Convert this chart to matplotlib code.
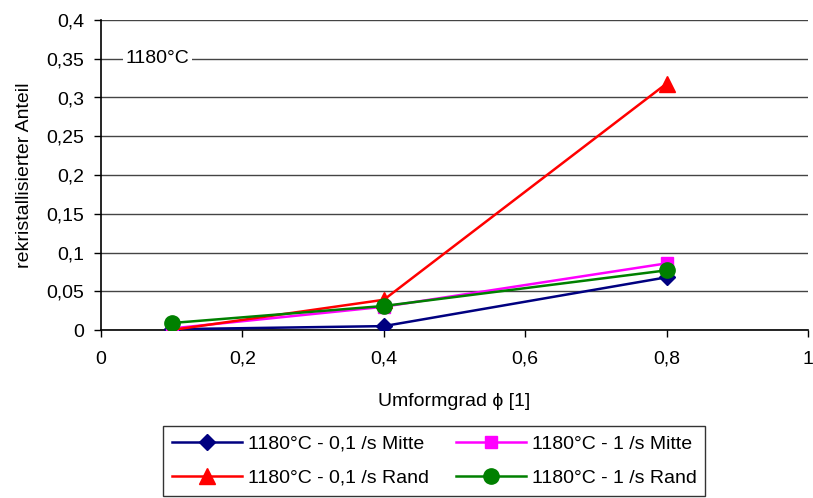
import matplotlib
matplotlib.use("Agg")
import matplotlib.pyplot as plt
from matplotlib.ticker import FuncFormatter, MultipleLocator

plt.rcParams['font.family'] = ['Liberation Sans', 'DejaVu Sans']

phi = [0.1, 0.4, 0.8]
mitte_01 = [0.001, 0.005, 0.068]
mitte_1 = [0.002, 0.030, 0.086]
rand_01 = [0.000, 0.039, 0.318]
rand_1 = [0.009, 0.031, 0.077]

labels = ["1180°C - 0,1 /s Mitte", "1180°C - 1 /s Mitte",
          "1180°C - 0,1 /s Rand", "1180°C - 1 /s Rand"]

fs = 14
fig = plt.figure(figsize=(8.13, 4.98), dpi=100)
ax = fig.add_axes([101/813, 1 - 330/498, 707/813, 310/498])

l1, = ax.plot(phi, mitte_01, color='#000080', marker='D', ms=8, lw=1.8, zorder=3)
l2, = ax.plot(phi, mitte_1, color='#ff00ff', marker='s', ms=9, lw=1.8, zorder=3)
l3, = ax.plot(phi, rand_01, color='#ff0000', marker='^', ms=11, lw=1.8, zorder=3)
l4, = ax.plot(phi, rand_1, color='#008000', marker='o', ms=11, lw=1.8, zorder=3)

ax.set_xlim(0, 1)
ax.set_ylim(0, 0.4)
ax.xaxis.set_major_locator(MultipleLocator(0.2))
ax.yaxis.set_major_locator(MultipleLocator(0.05))
comma = FuncFormatter(lambda v, p: ('%g' % round(v, 3)).replace('.', ','))
ax.xaxis.set_major_formatter(comma)
ax.yaxis.set_major_formatter(comma)

ax.grid(axis='y', color='#444444', lw=1, zorder=0)
ax.set_axisbelow(True)
for s in ['top', 'right']:
    ax.spines[s].set_visible(False)
ax.spines['left'].set_linewidth(1.2)
ax.spines['bottom'].set_linewidth(1.2)
ax.tick_params(direction='out', length=5, width=1, labelsize=fs, pad=7)
ax.tick_params(axis='x', pad=10)

ax.set_xlabel("Umformgrad ϕ [1]", fontsize=fs, labelpad=18)
ax.set_ylabel("rekristallisierter Anteil", fontsize=fs, labelpad=10)

ax.text(0.035, 0.35, "1180°C", fontsize=fs, va='center', ha='left',
        bbox=dict(facecolor='white', edgecolor='none', pad=2), zorder=2)

leg = fig.legend([l1, l3, l2, l4], [labels[0], labels[2], labels[1], labels[3]],
                 ncol=2, loc='lower center', bbox_to_anchor=(0.534, -0.015),
                 fontsize=fs, frameon=True, fancybox=False, edgecolor='black',
                 handlelength=3.6, columnspacing=1.4, handletextpad=0.3,
                 borderpad=0.45, labelspacing=0.85)
leg.get_frame().set_linewidth(1)

fig.savefig("out.png", dpi=100)
